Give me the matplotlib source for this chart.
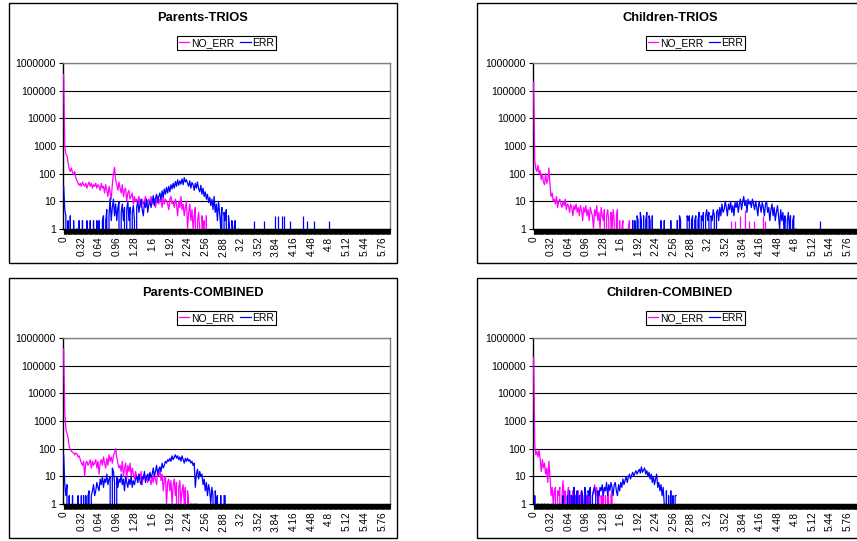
import matplotlib.pyplot as plt
import numpy as np
from matplotlib.patches import Rectangle
from matplotlib.ticker import FixedLocator, NullLocator, NullFormatter

plt.rcParams['font.family'] = ['Liberation Sans', 'DejaVu Sans']

W, H = 857, 541
MAGENTA = '#FF00FF'
BLUE = '#0000FF'

# values read every 0.02 (every 2nd category of 0.01)
pt_no = [380000, 1000, 500, 450, 250, 150, 120, 160, 110, 95, 120, 70, 55, 45, 38, 45, 35,
         50, 40, 35, 45, 30, 40, 50, 35, 45, 30, 40, 35, 45, 30, 40, 35,
         25, 45, 30, 35, 20, 40, 25, 15, 35, 20, 12, 40, 100, 170, 60, 40,
         25, 50, 30, 20, 40, 15, 25, 30, 10, 20, 25, 12, 15, 20, 8, 15,
         10, 12, 8, 15, 10, 6, 12, 8, 10, 15, 7, 10, 12, 8, 15, 10,
         8, 12, 6, 10, 15, 8, 12, 10, 6, 15, 8, 12, 10, 8, 5, 12,
         15, 8, 10, 6, 12, 8, 3, 10, 6, 15, 5, 8, 3, 6, 10, 1,
         4, 8, 2, 5, 1, 3, 6, 0, 2, 4, 1, 0, 3, 1, 2, 0, 3, 0]
pt_err = [35, 5, 3, 0, 2, 0, 3, 0, 0, 2, 0, 0, 1, 0, 2, 0,
          0, 2, 0, 0, 0, 2, 0, 0, 2, 0, 0, 2, 0, 0, 2, 0,
          2, 0, 0, 2, 3, 0, 2, 5, 0, 3, 13, 2, 6, 12, 3, 8,
          2, 6, 10, 0, 4, 8, 2, 6, 0, 5, 10, 2, 6, 0, 4, 7,
          2, 0, 6, 10, 4, 8, 12, 5, 3, 9, 6, 12, 4, 8, 10, 6,
          10, 16, 7, 13, 18, 9, 15, 20, 11, 24, 14, 28, 18, 32, 20, 35,
          22, 40, 28, 45, 30, 52, 35, 60, 38, 55, 42, 65, 40, 72, 50, 60,
          45, 35, 55, 30, 48, 40, 25, 45, 30, 50, 28, 22, 38, 18, 30, 15,
          22, 12, 18, 9, 14, 7, 12, 5, 15, 4, 8, 2, 10, 4, 1, 6,
          0, 4, 2, 5, 0, 3, 1, 0, 2, 1, 0, 2, 0, 0, 1, 0]
pt_err_spike_x = [3.44, 3.62, 3.82, 3.88, 3.94, 3.98, 4.10, 4.32, 4.40, 4.52, 4.80]
pt_err_spike_y = [2, 2, 3, 3, 3, 3, 2, 3, 2, 2, 2]

ct_no = [200000, 300, 150, 120, 200, 100, 130, 60, 100, 50, 40, 100, 45, 60, 160, 40,
         15, 20, 10, 12, 8, 15, 6, 10, 12, 8, 6, 10, 7, 12, 5, 8,
         7, 4, 8, 6, 3, 7, 5, 8, 4, 6, 3, 7, 5, 2, 6, 4,
         7, 3, 5, 2, 6, 4, 3, 1, 5, 3, 7, 2, 4, 1, 6, 3,
         2, 5, 0, 3, 5, 2, 0, 4, 1, 5, 2, 0, 3, 5, 0, 2,
         0, 1, 2, 0, 0, 0, 0, 1, 2, 0, 0, 0, 0, 0, 0, 0]
ct_no_spike_x = [3.62, 3.70, 3.80, 3.88, 3.96, 4.04, 4.22, 4.26]
ct_no_spike_y = [2, 2, 3, 5, 2, 2, 3, 2]
ct_err_start = 1.80
ct_err = [0, 2, 0, 2, 0, 3, 2, 0, 4, 2, 0, 3, 0, 2, 4, 0,
          3, 2, 0, 3, 0, 0, 0, 0, 0, 0, 0, 2, 0, 0, 2, 0,
          0, 0, 0, 0, 2, 0, 0, 0, 0, 0, 2, 0, 3, 2, 0, 0,
          0, 0, 0, 3, 2, 3, 0, 2, 3, 0, 2, 3, 0, 2, 4, 0,
          3, 2, 4, 0, 3, 5, 2, 4, 0, 3, 2, 5, 3, 0, 4, 5,
          2, 6, 3, 8, 4, 5, 10, 6, 3, 8, 5, 10, 4, 7, 3, 9,
          6, 10, 4, 8, 12, 5, 9, 15, 7, 11, 4, 12, 8, 10, 6, 12,
          8, 5, 10, 6, 3, 10, 7, 4, 9, 6, 3, 8, 10, 4, 6, 2,
          5, 8, 3, 6, 2, 4, 7, 3, 1, 5, 2, 4, 1, 3, 0, 2,
          4, 1, 3, 0, 2, 3, 0, 1, 0, 0, 0, 0, 0, 0, 0, 0]
ct_err_spike_x = [5.26]
ct_err_spike_y = [2]

pc_no = [400000, 2000, 500, 350, 250, 120, 90, 80, 75, 70, 60, 70, 65, 50, 55, 40,
         30, 25, 35, 10, 30, 35, 25, 30, 40, 20, 35, 25, 30, 40, 20, 35,
         12, 30, 40, 25, 50, 30, 20, 45, 25, 60, 35, 50, 30, 55, 70, 100,
         50, 30, 20, 25, 15, 35, 10, 20, 30, 8, 25, 15, 30, 10, 20, 12,
         8, 15, 10, 6, 12, 8, 15, 5, 10, 12, 7, 10, 6, 12, 8, 5,
         10, 6, 12, 8, 5, 15, 10, 20, 7, 12, 3, 8, 10, 1, 6, 8,
         3, 7, 1, 5, 8, 2, 6, 0, 4, 7, 1, 3, 5, 1, 4, 0,
         3, 1, 0, 1, 1, 0, 1, 1, 1]
pc_err = [60, 5, 2, 5, 0, 2, 0, 0, 2, 0, 0, 0, 0, 2, 0, 0,
          2, 0, 2, 0, 2, 0, 2, 3, 0, 2, 3, 5, 2, 3, 6, 4,
          3, 8, 5, 10, 4, 8, 6, 12, 5, 8, 10, 0, 20, 15, 6, 0,
          10, 4, 8, 6, 12, 5, 8, 3, 10, 6, 4, 8, 5, 10, 4, 7,
          5, 8, 10, 6, 12, 7, 5, 10, 8, 15, 6, 10, 12, 7, 14, 9,
          12, 20, 10, 15, 25, 12, 18, 22, 15, 30, 20, 25, 35, 30, 40, 35,
          45, 35, 55, 40, 50, 60, 45, 55, 40, 50, 35, 55, 40, 30, 45, 35,
          45, 35, 40, 30, 35, 25, 30, 4, 12, 18, 8, 15, 10, 12, 5, 8,
          3, 6, 2, 5, 3, 1, 4, 2, 0, 3, 1, 2, 0, 0, 2, 0,
          0, 2, 2, 0, 0, 0, 0]

cc_no = [200000, 150, 60, 80, 50, 90, 40, 15, 40, 20, 30, 12, 20, 6, 35, 10,
         2, 4, 1, 3, 4, 0, 3, 2, 4, 0, 2, 7, 1, 3, 0, 2,
         4, 0, 2, 1, 3, 0, 2, 0, 1, 3, 0, 2, 3, 0, 1, 3,
         0, 2, 0, 3, 1, 0, 2, 3, 5, 2, 4, 1, 3, 0, 2, 1,
         3, 0, 2, 0, 3, 1, 0, 2, 3, 0, 1, 0, 0, 0, 0, 0]
cc_err = [0, 2, 0, 0, 1, 0, 0, 0, 1, 0, 1, 0, 0, 1, 0, 0,
          0, 1, 0, 0, 1, 0, 0, 0, 1, 0, 0, 2, 0, 0, 0, 2,
          0, 3, 0, 2, 0, 4, 0, 2, 3, 0, 2, 0, 3, 2, 0, 4,
          2, 0, 3, 2, 4, 0, 2, 3, 4, 2, 0, 3, 2, 4, 3, 5,
          2, 4, 3, 6, 2, 5, 3, 6, 4, 2, 5, 6, 3, 2, 5, 3,
          6, 4, 8, 5, 7, 10, 6, 9, 12, 8, 11, 14, 10, 13, 16, 12,
          15, 18, 13, 22, 14, 17, 20, 12, 16, 10, 14, 8, 12, 6, 10, 5,
          8, 12, 4, 6, 3, 5, 2, 4, 1, 0, 3, 0, 2, 0, 3, 0,
          2, 0, 2, 2]

panels = [
    dict(title='Parents-TRIOS', frame=(9, 3, 397, 263), plot=(63, 63, 390, 229), ncat=591,
         no=pt_no, no_start=0.0, err=pt_err, err_start=0.0,
         no_sx=[], no_sy=[], err_sx=pt_err_spike_x, err_sy=pt_err_spike_y),
    dict(title='Children-TRIOS', frame=(477, 3, 863, 263), plot=(533, 63, 858, 229), ncat=597,
         no=ct_no, no_start=0.0, err=ct_err, err_start=ct_err_start,
         no_sx=ct_no_spike_x, no_sy=ct_no_spike_y, err_sx=ct_err_spike_x, err_sy=ct_err_spike_y),
    dict(title='Parents-COMBINED', frame=(9, 278, 397, 538), plot=(63, 338, 390, 504), ncat=591,
         no=pc_no, no_start=0.0, err=pc_err, err_start=0.0,
         no_sx=[], no_sy=[], err_sx=[], err_sy=[]),
    dict(title='Children-COMBINED', frame=(477, 278, 863, 538), plot=(533, 338, 858, 504), ncat=597,
         no=cc_no, no_start=0.0, err=cc_err, err_start=0.0,
         no_sx=[], no_sy=[], err_sx=[], err_sy=[]),
]

fig = plt.figure(figsize=(W / 100, H / 100), dpi=100)

for p in panels:
    fx0, fy0, fx1, fy1 = p['frame']
    fig.patches.append(Rectangle((fx0 / W, 1 - fy1 / H), (fx1 - fx0) / W, (fy1 - fy0) / H,
                                 transform=fig.transFigure, fill=False,
                                 edgecolor='black', linewidth=1.0))
    x0, y0, x1, y1 = p['plot']
    ax = fig.add_axes([x0 / W, 1 - y1 / H, (x1 - x0) / W, (y1 - y0) / H])

    # category index = value * 100
    xn = p['no_start'] * 100 + 2 * np.arange(len(p['no']))
    xe = p['err_start'] * 100 + 2 * np.arange(len(p['err']))
    ln1, = ax.plot(xn, p['no'], color=MAGENTA, lw=0.9, label='NO_ERR', zorder=3)
    ln2, = ax.plot(xe, p['err'], color=BLUE, lw=0.9, label='ERR', zorder=4)
    if p['no_sx']:
        ax.vlines(np.array(p['no_sx']) * 100, 1, p['no_sy'], color=MAGENTA, lw=0.9, zorder=3)
    if p['err_sx']:
        ax.vlines(np.array(p['err_sx']) * 100, 1, p['err_sy'], color=BLUE, lw=0.9, zorder=4)

    ax.set_yscale('log')
    ax.set_ylim(1, 1e6)
    ax.set_xlim(-1.2, p['ncat'] - 1)
    ax.yaxis.set_major_locator(FixedLocator([10 ** k for k in range(7)]))
    ax.set_yticklabels([str(10 ** k) for k in range(7)], fontsize=7.5)
    ax.yaxis.set_minor_locator(NullLocator())
    ax.tick_params(axis='y', which='major', length=3, width=0.8, pad=2)
    ax.grid(axis='y', color='black', lw=0.8)
    ax.set_axisbelow(True)

    xt = list(range(0, p['ncat'], 32))
    ax.set_xticks(xt)
    ax.set_xticklabels([f'{i / 100:g}' for i in xt], rotation=90, fontsize=7.3)
    ax.xaxis.set_minor_locator(FixedLocator(np.arange(p['ncat'])))
    ax.xaxis.set_minor_formatter(NullFormatter())
    ax.tick_params(axis='x', which='both', length=3.5, width=0.8, pad=2)

    for s in ['left', 'bottom']:
        ax.spines[s].set_color('black')
        ax.spines[s].set_linewidth(1.0)
    for s in ['top', 'right']:
        ax.spines[s].set_color('#808080')
        ax.spines[s].set_linewidth(1.0)

    fig.text((fx0 + fx1) / 2 / W, 1 - (fy0 + 15) / H, p['title'], ha='center', va='center',
             fontsize=9.3, fontweight='bold')
    leg = ax.legend(handles=[ln1, ln2], loc='center', ncol=2,
                    bbox_to_anchor=((x0 + x1) / 2 / W, 1 - (fy0 + 40) / H),
                    bbox_transform=fig.transFigure, fontsize=7.5, frameon=True,
                    fancybox=False, edgecolor='black', framealpha=1,
                    borderpad=0.2, handlelength=1.0, handletextpad=0.15,
                    columnspacing=0.6, borderaxespad=0)
    leg.get_frame().set_linewidth(0.8)

fig.savefig('out.png', dpi=100)
